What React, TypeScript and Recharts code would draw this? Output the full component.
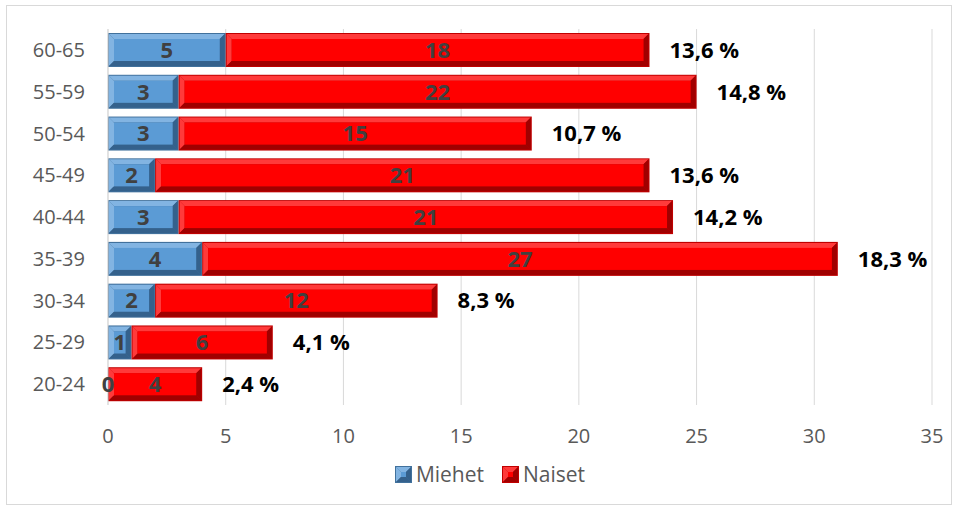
import React from 'react';
import {
  BarChart,
  Bar,
  XAxis,
  YAxis,
  CartesianGrid,
  LabelList,
} from 'recharts';

// Age groups, top row first
const ageGroups = ['60-65', '55-59', '50-54', '45-49', '40-44', '35-39', '30-34', '25-29', '20-24'];
const miehet = [5, 3, 3, 2, 3, 4, 2, 1, 0];
const naiset = [18, 22, 15, 21, 21, 27, 12, 6, 4];
const osuus = ['13,6 %', '14,8 %', '10,7 %', '13,6 %', '14,2 %', '18,3 %', '8,3 %', '4,1 %', '2,4 %'];
const xTicks = [0, 5, 10, 15, 20, 25, 30, 35];

const data = ageGroups.map((group, i) => ({
  group,
  miehet: miehet[i],
  naiset: naiset[i],
  osuus: osuus[i],
}));

const FONT = '"Open Sans", "Liberation Sans", sans-serif';

type Palette = { face: string; light: string; dark: string; border: string };

const BLUE: Palette = { face: '#5B9BD5', light: '#82B4E2', dark: '#34618C', border: '#41719C' };
const RED: Palette = { face: '#FF0000', light: '#FF3A3A', dark: '#A00000', border: '#C00000' };

// Excel-like bevelled rectangle
const bevel = (pal: Palette) => (props: any) => {
  const { x, y, width, height } = props;
  if (!width || width <= 0) return <g />;
  const b = Math.min(5, width / 3, height / 3);
  const x2 = x + width;
  const y2 = y + height;
  return (
    <g>
      <rect x={x} y={y} width={width} height={height} fill={pal.border} />
      <polygon points={`${x + 1},${y + 1} ${x2 - 1},${y + 1} ${x2 - 1 - b},${y + 1 + b} ${x + 1 + b},${y + 1 + b}`} fill={pal.light} />
      <polygon points={`${x + 1},${y + 1} ${x + 1 + b},${y + 1 + b} ${x + 1 + b},${y2 - 1 - b} ${x + 1},${y2 - 1}`} fill={pal.light} />
      <polygon points={`${x + 1},${y2 - 1} ${x + 1 + b},${y2 - 1 - b} ${x2 - 1 - b},${y2 - 1 - b} ${x2 - 1},${y2 - 1}`} fill={pal.dark} />
      <polygon points={`${x2 - 1},${y + 1} ${x2 - 1},${y2 - 1} ${x2 - 1 - b},${y2 - 1 - b} ${x2 - 1 - b},${y + 1 + b}`} fill={pal.dark} />
      <rect x={x + 1 + b} y={y + 1 + b} width={Math.max(0, width - 2 - 2 * b)} height={Math.max(0, height - 2 - 2 * b)} fill={pal.face} />
    </g>
  );
};

const LegendIcon = ({ pal }: { pal: Palette }) => (
  <svg width={17} height={17} style={{ marginRight: 4 }}>
    {bevel(pal)({ x: 0, y: 0, width: 17, height: 17 })}
  </svg>
);

export default function App() {
  return (
    <div style={{ position: 'absolute', left: 0, top: 0, width: 955, height: 508, background: '#fff', fontFamily: FONT }}>
      <div style={{ position: 'absolute', left: 6, top: 5, width: 946, height: 500, border: '1px solid #D9D9D9', boxSizing: 'border-box' }} />
      <BarChart
        width={955}
        height={508}
        data={data}
        layout="vertical"
        margin={{ top: 29, right: 23, bottom: 73, left: 8 }}
        barSize={34}
      >
        <CartesianGrid horizontal={false} stroke="#D9D9D9" />
        <XAxis
          type="number"
          domain={[0, 35]}
          ticks={xTicks}
          axisLine={false}
          tickLine={false}
          tickMargin={18}
          tick={{ fontSize: 20, fill: '#595959', fontFamily: FONT }}
        />
        <YAxis
          type="category"
          dataKey="group"
          width={100}
          axisLine={{ stroke: '#D9D9D9' }}
          tickLine={false}
          tickMargin={17}
          tick={{ fontSize: 20, fill: '#595959', fontFamily: FONT }}
        />
        <Bar dataKey="miehet" stackId="a" isAnimationActive={false} shape={bevel(BLUE)}>
          <LabelList dataKey="miehet" position="center" fill="#404040" fontSize={22} fontWeight="bold" fontFamily={FONT} />
        </Bar>
        <Bar dataKey="naiset" stackId="a" isAnimationActive={false} shape={bevel(RED)}>
          <LabelList dataKey="naiset" position="center" fill="#404040" fontSize={22} fontWeight="bold" fontFamily={FONT} />
          <LabelList dataKey="osuus" position="right" offset={20} fill="#000" fontSize={22} fontWeight="bold" fontFamily={FONT} />
        </Bar>
      </BarChart>
      <div
        style={{
          position: 'absolute',
          top: 460,
          left: 0,
          width: 955,
          display: 'flex',
          justifyContent: 'center',
          alignItems: 'center',
          gap: 18,
          fontSize: 21,
          color: '#595959',
          paddingLeft: 25,
          boxSizing: 'border-box',
        }}
      >
        <span style={{ display: 'flex', alignItems: 'center' }}>
          <LegendIcon pal={BLUE} />
          Miehet
        </span>
        <span style={{ display: 'flex', alignItems: 'center' }}>
          <LegendIcon pal={RED} />
          Naiset
        </span>
      </div>
    </div>
  );
}
